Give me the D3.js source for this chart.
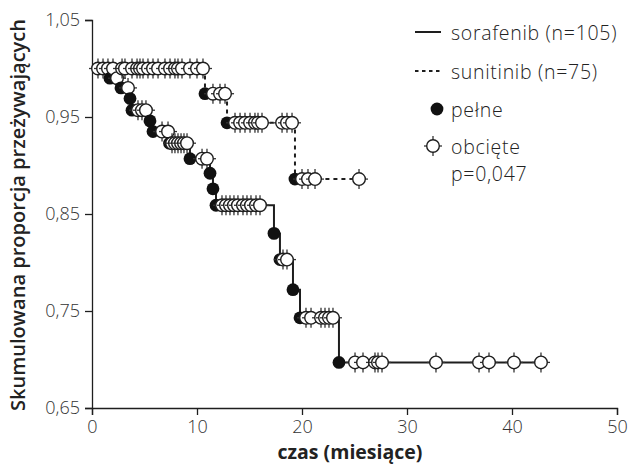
<!DOCTYPE html>
<html><head><meta charset="utf-8">
<script src="https://cdn.jsdelivr.net/npm/d3@7/dist/d3.min.js"></script>
<style>body{margin:0;background:#fff}svg{display:block}</style>
</head><body><svg id="c" width="630" height="464"></svg>
<script>
// ---------- data ----------
const xTicks = [0, 10, 20, 30, 40, 50];
const yTicks = [0.65, 0.75, 0.85, 0.95, 1.05];
const xTitle = "czas (miesiące)";
const yTitle = "Skumulowana proporcja przeżywających";

// sorafenib (solid): event times and survival after each event
const soraEventT = [1.71, 2.76, 3.62, 3.81, 5.52, 5.81, 7.38, 9.33, 11.24, 11.52, 11.81, 17.33, 17.9, 19.14, 19.81, 23.52];
const soraEventS = [0.990, 0.980, 0.969, 0.957, 0.946, 0.935, 0.923, 0.907, 0.892, 0.876, 0.859, 0.830, 0.803, 0.772, 0.743, 0.697];
const soraCensT = [0.57, 1.05, 1.52, 2.38, 3.43, 4.38, 4.76, 5.14, 6.67, 7.24,
  7.62, 7.9, 8.19, 8.48, 8.76, 9.05, 10.48, 10.95,
  12.38, 12.76, 13.14, 13.52, 13.9, 14.38, 14.76, 15.14, 15.62, 16.0,
  18.19, 18.57, 20.38, 20.86, 21.81, 22.19, 22.57, 22.95,
  25.05, 25.81, 26.95, 27.24, 27.62, 32.76, 36.86, 37.81, 40.19, 42.76];

// sunitinib (dashed)
const suniEventT = [10.76, 12.86, 19.33];
const suniEventS = [0.974, 0.944, 0.886];
const suniCensT = [2.0, 2.86, 3.14, 3.81, 4.29, 4.57, 4.86, 5.33, 5.81, 6.29, 6.95, 7.43, 7.9, 8.19, 8.57, 9.33, 10.0, 10.57,
  11.52, 12.19, 12.67,
  13.62, 14.1, 14.57, 15.05, 15.52, 15.81, 16.19, 18.1, 18.57, 19.05,
  20.0, 20.57, 21.24, 25.43];

const legendLabels = ["sorafenib (n=105)", "sunitinib (n=75)", "pełne", "obcięte"];
const pValueLabel = "p=0,047";

// ---------- drawing ----------
const svg = d3.select("#c");
const FONT = "'Open Sans', 'Noto Sans', sans-serif";
const ink = "#1e1e1e";
const x = d3.scaleLinear().domain([0, 50]).range([92, 617]);
const y = d3.scaleLinear().domain([0.65, 1.05]).range([408, 20]);

const fmt = d => d3.format(".2f")(d).replace(".", ",");

const gx = svg.append("g").attr("transform", `translate(0,${y(0.65)})`)
  .call(d3.axisBottom(x).tickValues(xTicks).tickSize(7).tickPadding(5).tickFormat(d3.format("d")));
const gy = svg.append("g").attr("transform", `translate(${x(0)},0)`)
  .call(d3.axisLeft(y).tickValues(yTicks).tickSize(7).tickPadding(5).tickFormat(fmt));
[gx, gy].forEach(g => {
  g.select(".domain").attr("stroke", ink).attr("stroke-width", 1.3);
  g.selectAll(".tick line").attr("stroke", ink).attr("stroke-width", 1.3);
  g.selectAll(".tick text").attr("font-family", FONT).attr("font-size", 18)
    .attr("font-weight", 300).attr("fill", "#333");
});

svg.append("text").attr("x", 350).attr("y", 459).attr("text-anchor", "middle")
  .attr("font-family", FONT).attr("font-size", 19.5).attr("font-weight", 700).attr("fill", "#222").text(xTitle);
svg.append("text").attr("transform", `translate(25,215) rotate(-90)`).attr("text-anchor", "middle")
  .attr("font-family", FONT).attr("font-size", 20).attr("font-weight", 600).attr("fill", "#222").text(yTitle);

function survAt(evT, evS, t) {
  let s = 1.0;
  for (let i = 0; i < evT.length; i++) if (evT[i] <= t) s = evS[i];
  return s;
}
function curvePoints(evT, evS, censT) {
  const pts = [[0, 1.0]];
  evT.forEach((t, i) => pts.push([t, evS[i]]));
  const tEnd = Math.max(d3.max(censT), d3.max(evT));
  pts.push([tEnd, survAt(evT, evS, tEnd)]);
  return pts;
}
const line = d3.line().x(d => x(d[0])).y(d => y(d[1])).curve(d3.curveStepAfter);

svg.append("path").attr("d", line(curvePoints(suniEventT, suniEventS, suniCensT)))
  .attr("fill", "none").attr("stroke", ink).attr("stroke-width", 2).attr("stroke-dasharray", "4,4");
svg.append("path").attr("d", line(curvePoints(soraEventT, soraEventS, soraCensT)))
  .attr("fill", "none").attr("stroke", ink).attr("stroke-width", 2);

// markers in time order
const markers = [];
soraEventT.forEach((t, i) => markers.push({t, s: soraEventS[i], ev: true}));
suniEventT.forEach((t, i) => markers.push({t, s: suniEventS[i], ev: true}));
soraCensT.forEach(t => markers.push({t, s: survAt(soraEventT, soraEventS, t), ev: false}));
suniCensT.forEach(t => markers.push({t, s: survAt(suniEventT, suniEventS, t), ev: false}));
markers.sort((a, b) => a.t - b.t);

function drawCens(g, cx, cy) {
  g.append("line").attr("x1", cx).attr("x2", cx).attr("y1", cy - 10).attr("y2", cy + 10)
    .attr("stroke", "#333").attr("stroke-width", 1.3);
  g.append("line").attr("x1", cx - 9).attr("x2", cx + 9).attr("y1", cy).attr("y2", cy)
    .attr("stroke", "#333").attr("stroke-width", 1.3);
  g.append("circle").attr("cx", cx).attr("cy", cy).attr("r", 6.3)
    .attr("fill", "#fff").attr("stroke", ink).attr("stroke-width", 1.4);
}
function drawEvent(g, cx, cy) {
  g.append("circle").attr("cx", cx).attr("cy", cy).attr("r", 6.4).attr("fill", "#111");
}
const gm = svg.append("g");
markers.forEach(m => {
  if (m.ev) drawEvent(gm, x(m.t), y(m.s)); else drawCens(gm, x(m.t), y(m.s));
});

// legend
const lg = svg.append("g");
const lx = 415, tx = 451;
const rowY = [32, 71, 109, 146];
const lfs = 19.5, lls = 0.7;
lg.append("line").attr("x1", lx).attr("x2", lx + 26).attr("y1", rowY[0]).attr("y2", rowY[0])
  .attr("stroke", ink).attr("stroke-width", 2);
lg.append("line").attr("x1", lx).attr("x2", lx + 26).attr("y1", rowY[1]).attr("y2", rowY[1])
  .attr("stroke", ink).attr("stroke-width", 2).attr("stroke-dasharray", "3.5,3.5");
drawEvent(lg, 437, rowY[2]);
drawCens(lg, 433, rowY[3]);
legendLabels.forEach((t, i) => lg.append("text").attr("x", tx).attr("y", rowY[i])
  .attr("dominant-baseline", "central").attr("font-family", FONT).attr("font-size", lfs)
  .attr("letter-spacing", lls).attr("font-weight", 300).attr("fill", "#222").text(t));
lg.append("text").attr("x", tx).attr("y", 173.5).attr("dominant-baseline", "central")
  .attr("font-family", FONT).attr("font-size", lfs).attr("letter-spacing", lls)
  .attr("font-weight", 300).attr("fill", "#222").text(pValueLabel);
</script></body></html>
